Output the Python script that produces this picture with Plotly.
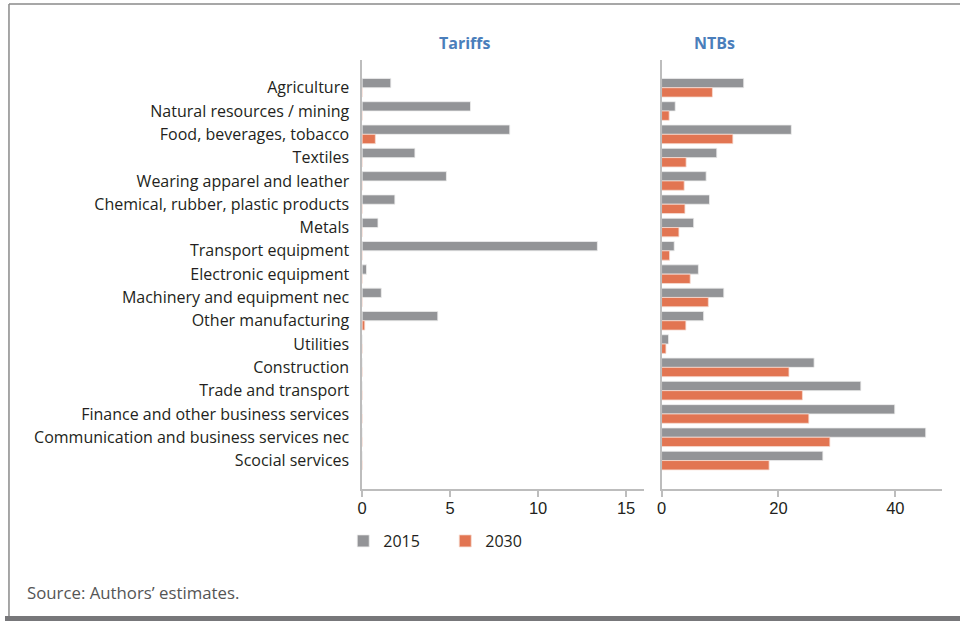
import plotly.graph_objects as go

sectors = [
    "Agriculture",
    "Natural resources / mining",
    "Food, beverages, tobacco",
    "Textiles",
    "Wearing apparel and leather",
    "Chemical, rubber, plastic products",
    "Metals",
    "Transport equipment",
    "Electronic equipment",
    "Machinery and equipment nec",
    "Other manufacturing",
    "Utilities",
    "Construction",
    "Trade and transport",
    "Finance and other business services",
    "Communication and business services nec",
    "Scocial services",
]

tariffs_2015 = [1.63, 6.16, 8.39, 3.0, 4.79, 1.86, 0.9, 13.37, 0.25, 1.09, 4.3, 0, 0, 0, 0, 0, 0]
tariffs_2030 = [0, 0, 0.75, 0, 0, 0, 0, 0, 0, 0, 0.15, 0, 0, 0, 0, 0, 0]

ntb_2015 = [14.06, 2.34, 22.2, 9.45, 7.63, 8.2, 5.5, 2.17, 6.3, 10.65, 7.2, 1.2, 26.1, 34.1, 39.9, 45.2, 27.6]
ntb_2030 = [8.7, 1.3, 12.2, 4.2, 3.87, 4.0, 2.97, 1.37, 4.9, 8.0, 4.16, 0.75, 21.8, 24.1, 25.2, 28.8, 18.4]

GREY = "#939497"
ORANGE = "#E27552"
AXIS = "#BDBDBD"
TXT = "#231F20"
LBL_FONT = "Open Sans"

fig = go.Figure()

fig.add_trace(go.Bar(y=sectors, x=tariffs_2015, orientation="h", name="2015",
                     marker=dict(color=GREY, line=dict(color="#EDEDED", width=0.8)),
                     xaxis="x", yaxis="y", legendgroup="2015"))
fig.add_trace(go.Bar(y=sectors, x=tariffs_2030, orientation="h", name="2030",
                     marker=dict(color=ORANGE, line=dict(color="#F6DCD2", width=0.8)),
                     xaxis="x", yaxis="y", legendgroup="2030"))
fig.add_trace(go.Bar(y=sectors, x=ntb_2015, orientation="h", name="2015",
                     marker=dict(color=GREY, line=dict(color="#EDEDED", width=0.8)),
                     xaxis="x2", yaxis="y2", legendgroup="2015", showlegend=False))
fig.add_trace(go.Bar(y=sectors, x=ntb_2030, orientation="h", name="2030",
                     marker=dict(color=ORANGE, line=dict(color="#F6DCD2", width=0.8)),
                     xaxis="x2", yaxis="y2", legendgroup="2030", showlegend=False))

ydom = [1 - 489 / 621, 1 - 60 / 621]
yrange = [17.22, -1.19]

xcommon = dict(showgrid=False, zeroline=False, showline=True, linecolor=AXIS, linewidth=1.5,
               ticks="outside", tickcolor=AXIS, ticklen=6, tickwidth=1.5, ticklabelstandoff=-3,
               tickfont=dict(family="Liberation Sans", size=16.5, color=TXT))

fig.update_layout(
    width=960, height=621,
    margin=dict(l=0, r=0, t=0, b=0),
    paper_bgcolor="white", plot_bgcolor="white",
    barmode="group", bargap=0.2, bargroupgap=0,
    xaxis=dict(domain=[359 / 960, 642 / 960], range=[0, 16], tickvals=[0, 5, 10, 15],
               anchor="y", **xcommon),
    xaxis2=dict(domain=[660 / 960, 942 / 960], range=[0, 48], tickvals=[0, 20, 40],
                anchor="y2", **xcommon),
    yaxis=dict(domain=ydom, range=yrange, showgrid=False, zeroline=False, showline=True,
               linecolor=AXIS, linewidth=1.5, ticks="", ticklabelstandoff=8,
               tickfont=dict(family=LBL_FONT, size=16, color=TXT), anchor="x"),
    yaxis2=dict(domain=ydom, range=yrange, showgrid=False, zeroline=False, showline=True,
                linecolor=AXIS, linewidth=1.5, showticklabels=False, anchor="x2"),
    legend=dict(orientation="h", x=340 / 960, y=1 - 524 / 621, xanchor="left", yanchor="top",
                font=dict(family=LBL_FONT, size=16, color=TXT),
                entrywidth=57, traceorder="normal", bgcolor="rgba(0,0,0,0)"),
    font=dict(family=LBL_FONT, color=TXT),
)

# panel titles
fig.add_annotation(text="<b>Tariffs</b>", x=462 / 960, y=1 - 43 / 621, xref="paper", yref="paper",
                   yanchor="middle", showarrow=False,
                   font=dict(family=LBL_FONT, size=16, color="#4A7EBB"))
fig.add_annotation(text="<b>NTBs</b>", x=736 / 960, y=1 - 43 / 621, xref="paper", yref="paper",
                   yanchor="middle", showarrow=False,
                   font=dict(family=LBL_FONT, size=16, color="#4A7EBB"))

fig.add_annotation(text="Source: Authors\u2019 estimates.", x=20 / 960, y=1 - 592 / 621,
                   xref="paper", yref="paper", xanchor="left", yanchor="middle", showarrow=False,
                   font=dict(family=LBL_FONT, size=16.8, color="#555555"))

# page frame
fig.add_shape(type="line", xref="paper", yref="paper", x0=4 / 960, x1=4 / 960,
              y0=1 - 616 / 621, y1=1 - 4 / 621, line=dict(color="#8A8A8A", width=1.5))
fig.add_shape(type="line", xref="paper", yref="paper", x0=4 / 960, x1=1,
              y0=1 - 4 / 621, y1=1 - 4 / 621, line=dict(color="#8A8A8A", width=1.5))
fig.add_shape(type="rect", xref="paper", yref="paper", x0=0, x1=1,
              y0=0, y1=1 - 616 / 621, line=dict(width=0), fillcolor="#77777A")

# drop the default body margin so the 960x621 figure fills the window
fig.write_html("out.html", config={"displayModeBar": False},
               post_script="document.body.style.margin='0';")
